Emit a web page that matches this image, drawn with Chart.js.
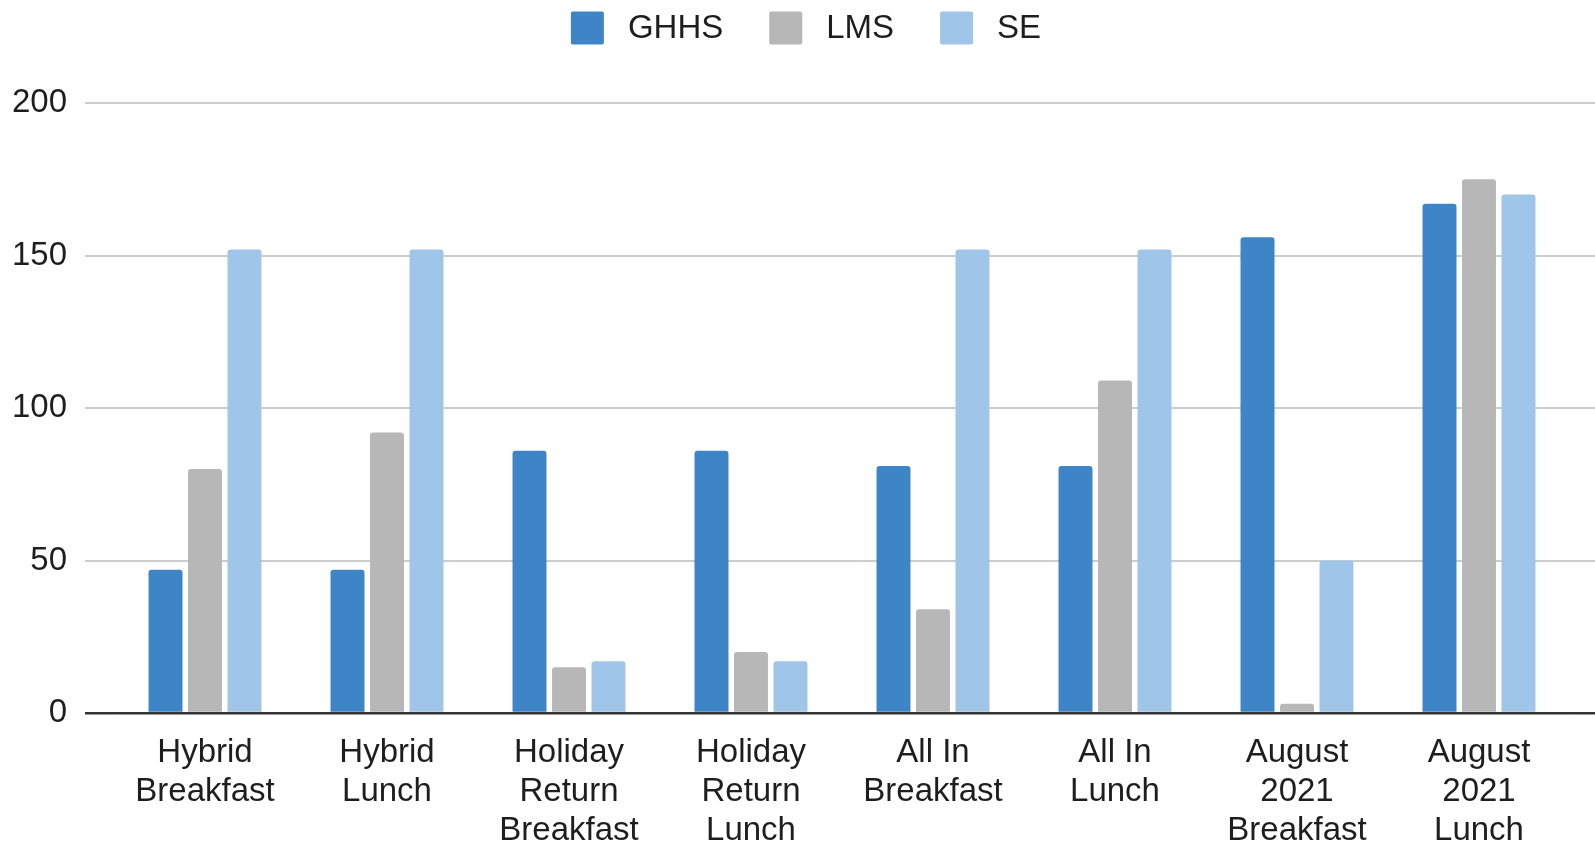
<!DOCTYPE html>
<html>
<head>
<meta charset="utf-8">
<script src="https://cdn.jsdelivr.net/npm/chart.js@4.4.1/dist/chart.umd.min.js"></script>
<style>
  html, body { margin: 0; padding: 0; background: #ffffff; }
  #wrap { width: 1595px; height: 844px; position: relative; }
  canvas { display: block; }
</style>
</head>
<body>
<div id="wrap"><canvas id="chart" width="1595" height="844"></canvas></div>
<script>
// Meal service counts per school, by service period
const categories = [
  ['Hybrid', 'Breakfast'],
  ['Hybrid', 'Lunch'],
  ['Holiday', 'Return', 'Breakfast'],
  ['Holiday', 'Return', 'Lunch'],
  ['All In', 'Breakfast'],
  ['All In', 'Lunch'],
  ['August', '2021', 'Breakfast'],
  ['August', '2021', 'Lunch']
];
const seriesNames = ['GHHS', 'LMS', 'SE'];
const ghhsValues = [47, 47, 86, 86, 81, 81, 156, 167];
const lmsValues = [80, 92, 15, 20, 34, 109, 3, 175];
const seValues = [152, 152, 17, 17, 152, 152, 50, 170];
const yTickValues = [0, 50, 100, 150, 200];

const seriesColors = ['#3d85c6', '#b7b7b7', '#9fc5e8'];
const FONT_FAMILY = '"Liberation Sans", Arial, Helvetica, sans-serif';
const TEXT_COLOR = '#1e1e1e';
const baseFont = { family: FONT_FAMILY, size: 33, lineHeight: 1.175 };

const gridColor = (ctx) => (ctx.tick && ctx.tick.value === 0) ? '#333333' : '#cccccc';
const gridWidth = (ctx) => (ctx.tick && ctx.tick.value === 0) ? 2.5 : 2;
const useTickList = (scale) => { scale.ticks = yTickValues.map(v => ({ value: v })); };

// Legend drawn along the top, Sheets-style spacing
const topLegend = {
  id: 'topLegend',
  afterDraw(chart) {
    const ctx = chart.ctx;
    const box = 33, gapText = 24, gapItem = 46, centerX = 806, centerY = 28;
    ctx.save();
    ctx.font = `33px ${FONT_FAMILY}`;
    ctx.textBaseline = 'middle';
    ctx.textAlign = 'left';
    const items = chart.data.datasets.map(ds => ({ text: ds.label, color: ds.backgroundColor, w: ctx.measureText(ds.label).width }));
    let total = 0;
    items.forEach((it, i) => { total += box + gapText + it.w + (i < items.length - 1 ? gapItem : 0); });
    let x = centerX - total / 2;
    items.forEach(it => {
      ctx.fillStyle = it.color;
      ctx.beginPath();
      ctx.roundRect(x, centerY - box / 2, box, box, 2);
      ctx.fill();
      ctx.fillStyle = TEXT_COLOR;
      ctx.fillText(it.text, x + box + gapText, centerY + 1);
      x += box + gapText + it.w + gapItem;
    });
    ctx.restore();
  }
};

new Chart(document.getElementById('chart'), {
  type: 'bar',
  data: {
    labels: categories,
    datasets: [
      { label: seriesNames[0], data: ghhsValues, backgroundColor: seriesColors[0] },
      { label: seriesNames[1], data: lmsValues, backgroundColor: seriesColors[1] },
      { label: seriesNames[2], data: seValues, backgroundColor: seriesColors[2] }
    ]
  },
  options: {
    responsive: false,
    animation: false,
    devicePixelRatio: 1,
    layout: { padding: { top: 103, left: 0, right: 0, bottom: 0 } },
    datasets: {
      bar: { categoryPercentage: 0.651, barPercentage: 0.86, borderRadius: 3, borderSkipped: 'start' }
    },
    plugins: {
      legend: { display: false },
      tooltip: { enabled: false }
    },
    scales: {
      x: {
        grid: { display: false },
        border: { display: false },
        ticks: { font: baseFont, color: TEXT_COLOR, padding: 13, maxRotation: 0, autoSkip: false },
        afterFit: (s) => { s.height = 131; }
      },
      y: {
        min: 0,
        max: 200,
        afterBuildTicks: useTickList,
        border: { display: false },
        grid: { color: gridColor, lineWidth: gridWidth, drawTicks: true, tickLength: 29 },
        ticks: { font: baseFont, color: TEXT_COLOR, padding: 18 },
        afterFit: (s) => { s.width = 114; }
      },
      yRight: {
        position: 'right',
        min: 0,
        max: 200,
        afterBuildTicks: useTickList,
        border: { display: false },
        grid: { color: gridColor, lineWidth: gridWidth, drawOnChartArea: false, drawTicks: true, tickLength: 25 },
        ticks: { display: false },
        afterFit: (s) => { s.width = 25; }
      }
    }
  },
  plugins: [topLegend]
});
</script>
</body>
</html>
